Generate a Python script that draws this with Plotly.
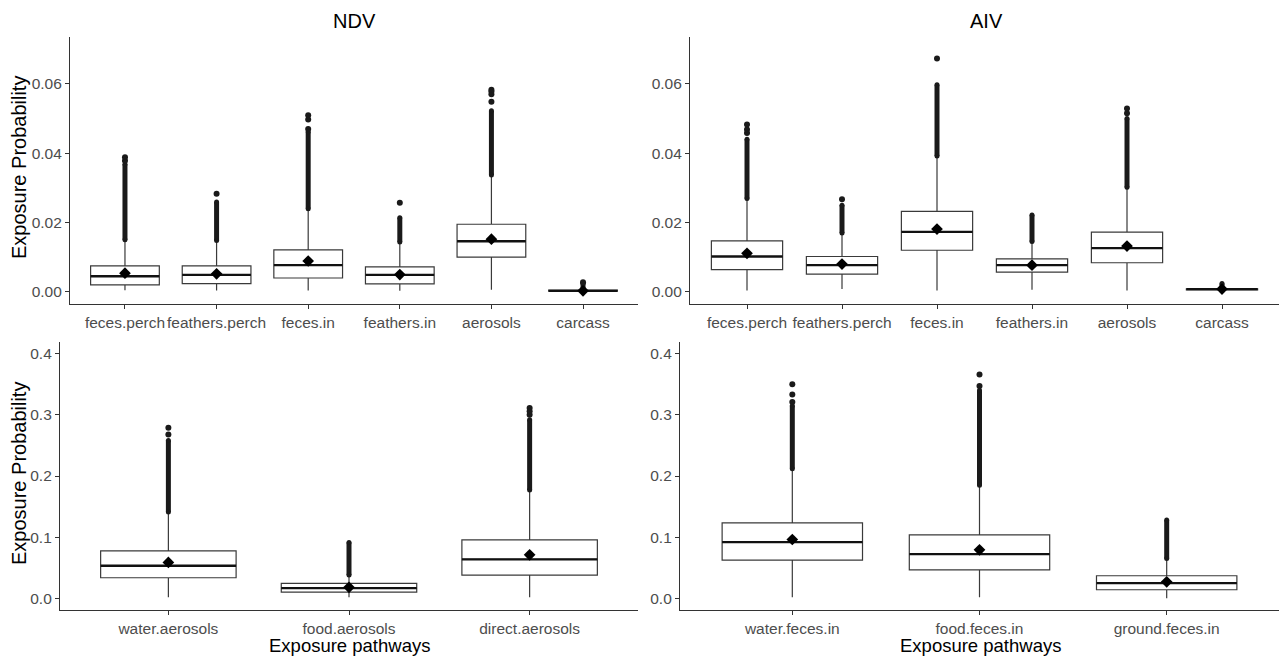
import plotly.graph_objects as go

# ---------------- DATA ----------------
top_cats = ["feces.perch", "feathers.perch", "feces.in", "feathers.in", "aerosols", "carcass"]

ndv_top_q1 = [0.0020, 0.0024, 0.0040, 0.0023, 0.0100, 0.0002]
ndv_top_med = [0.0045, 0.0049, 0.0077, 0.0049, 0.0146, 0.0003]
ndv_top_q3 = [0.0075, 0.0075, 0.0121, 0.0072, 0.0195, 0.0005]
ndv_top_low = [0.0005, 0.0004, 0.0004, 0.0003, 0.0006, 0.0000]
ndv_top_high = [0.0150, 0.0148, 0.0240, 0.0144, 0.0337, 0.0008]
ndv_top_mean = [0.0054, 0.0052, 0.0089, 0.0050, 0.0152, 0.0003]
ndv_top_dense_top = [0.0368, 0.0259, 0.0462, 0.0214, 0.0522, 0.0025]
ndv_top_isolated = [[0.0378, 0.0388], [0.0283], [0.0470, 0.0497, 0.0509], [0.0257],
                    [0.0548, 0.0570, 0.0578, 0.0583], [0.0028]]

aiv_top_q1 = [0.0064, 0.0051, 0.0120, 0.0057, 0.0084, 0.0006]
aiv_top_med = [0.0102, 0.0077, 0.0173, 0.0077, 0.0126, 0.0008]
aiv_top_q3 = [0.0147, 0.0102, 0.0232, 0.0095, 0.0172, 0.0009]
aiv_top_low = [0.0004, 0.0008, 0.0004, 0.0006, 0.0004, 0.0002]
aiv_top_high = [0.0269, 0.0170, 0.0392, 0.0145, 0.0302, 0.0012]
aiv_top_mean = [0.0111, 0.0080, 0.0181, 0.0077, 0.0132, 0.0008]
aiv_top_dense_top = [0.0440, 0.0250, 0.0597, 0.0222, 0.0500, 0.0024]
aiv_top_isolated = [[0.0458, 0.0468, 0.0483], [0.0267], [0.0673], [],
                    [0.0515, 0.0529], []]

ndv_bot_cats = ["water.aerosols", "food.aerosols", "direct.aerosols"]
ndv_bot_q1 = [0.0337, 0.0103, 0.0380]
ndv_bot_med = [0.0533, 0.0168, 0.0636]
ndv_bot_q3 = [0.0777, 0.0245, 0.0957]
ndv_bot_low = [0.002, 0.002, 0.002]
ndv_bot_high = [0.141, 0.038, 0.177]
ndv_bot_mean = [0.0587, 0.0180, 0.0712]
ndv_bot_dense_top = [0.258, 0.0915, 0.292]
ndv_bot_isolated = [[0.268, 0.279], [], [0.300, 0.306, 0.311]]

aiv_bot_cats = ["water.feces.in", "food.feces.in", "ground.feces.in"]
aiv_bot_q1 = [0.0625, 0.0467, 0.0141]
aiv_bot_med = [0.0918, 0.0723, 0.0250]
aiv_bot_q3 = [0.1234, 0.1038, 0.0370]
aiv_bot_low = [0.002, 0.002, 0.000]
aiv_bot_high = [0.212, 0.185, 0.065]
aiv_bot_mean = [0.0962, 0.0793, 0.0270]
aiv_bot_dense_top = [0.315, 0.340, 0.128]
aiv_bot_isolated = [[0.321, 0.333, 0.350], [0.347, 0.366], []]

top_yticks = [0.00, 0.02, 0.04, 0.06]
bot_yticks = [0.0, 0.1, 0.2, 0.3, 0.4]

# ---------------- LAYOUT HELPERS ----------------
W, H = 1280, 658
FONT = "Liberation Sans, Arial, sans-serif"
AXC = "#333333"
BOXW = 0.75
TICKSIZE = 15.5


def fx(px):
    return px / W


def fy(py):
    return 1 - py / H


panels = [
    (top_cats, ndv_top_q1, ndv_top_med, ndv_top_q3, ndv_top_low, ndv_top_high, ndv_top_mean,
     ndv_top_dense_top, ndv_top_isolated, (70, 638), (37, 304), [-0.0035, 0.0735], top_yticks, ".2f"),
    (top_cats, aiv_top_q1, aiv_top_med, aiv_top_q3, aiv_top_low, aiv_top_high, aiv_top_mean,
     aiv_top_dense_top, aiv_top_isolated, (690, 1279), (37, 304), [-0.0035, 0.0735], top_yticks, ".2f"),
    (ndv_bot_cats, ndv_bot_q1, ndv_bot_med, ndv_bot_q3, ndv_bot_low, ndv_bot_high, ndv_bot_mean,
     ndv_bot_dense_top, ndv_bot_isolated, (60, 638), (342, 610), [-0.019, 0.419], bot_yticks, ".1f"),
    (aiv_bot_cats, aiv_bot_q1, aiv_bot_med, aiv_bot_q3, aiv_bot_low, aiv_bot_high, aiv_bot_mean,
     aiv_bot_dense_top, aiv_bot_isolated, (680, 1279), (342, 610), [-0.019, 0.419], bot_yticks, ".1f"),
]

fig = go.Figure()
layout = dict(
    width=W, height=H,
    margin=dict(l=0, r=0, t=0, b=0),
    paper_bgcolor="white", plot_bgcolor="white",
    showlegend=False, boxmode="overlay",
    font=dict(family=FONT),
)

for i, (cats, q1, med, q3, low, high, mean, dtop, iso, xd, yd, yr, yt, fmt) in enumerate(panels):
    n = i + 1
    xa = "x" if n == 1 else f"x{n}"
    ya = "y" if n == 1 else f"y{n}"
    pos = list(range(1, len(cats) + 1))

    fig.add_trace(go.Box(
        x=pos, q1=q1, median=med, q3=q3, lowerfence=low, upperfence=high,
        width=BOXW, whiskerwidth=0, boxpoints=False,
        fillcolor="white", line=dict(color="#3a3a3a", width=1.2),
        xaxis=xa, yaxis=ya, hoverinfo="skip",
    ))

    # dense outlier runs (drawn as thick segments) and isolated outliers
    bx, by = [], []
    for p, h, t in zip(pos, high, dtop):
        bx += [p, p, None]
        by += [h, t, None]
    fig.add_trace(go.Scatter(x=bx, y=by, mode="lines+markers",
                             line=dict(color="#1a1a1a", width=5),
                             marker=dict(color="#1a1a1a", size=5),
                             xaxis=xa, yaxis=ya, hoverinfo="skip"))
    ix, iy = [], []
    for p, pts in zip(pos, iso):
        ix += [p] * len(pts)
        iy += pts
    fig.add_trace(go.Scatter(x=ix, y=iy, mode="markers",
                             marker=dict(color="#1a1a1a", size=6),
                             xaxis=xa, yaxis=ya, hoverinfo="skip"))

    # thick median line
    mx, my = [], []
    for p, m in zip(pos, med):
        mx += [p - BOXW / 2, p + BOXW / 2, None]
        my += [m, m, None]
    fig.add_trace(go.Scatter(x=mx, y=my, mode="lines",
                             line=dict(color="#111111", width=2.3),
                             xaxis=xa, yaxis=ya, hoverinfo="skip"))

    # mean diamonds
    fig.add_trace(go.Scatter(x=pos, y=mean, mode="markers",
                             marker=dict(symbol="diamond", color="black", size=9),
                             xaxis=xa, yaxis=ya, hoverinfo="skip"))

    xkey = "xaxis" if n == 1 else f"xaxis{n}"
    ykey = "yaxis" if n == 1 else f"yaxis{n}"
    layout[xkey] = dict(
        domain=[fx(xd[0]), fx(xd[1])], anchor=ya,
        range=[0.4, len(cats) + 0.6], tickvals=pos, ticktext=cats, tickangle=0,
        showline=True, linecolor=AXC, linewidth=1.2, showgrid=False, zeroline=False,
        ticks="outside", ticklen=4, tickcolor=AXC, tickwidth=1,
        tickfont=dict(family=FONT, size=TICKSIZE, color="#4d4d4d"),
        fixedrange=True,
    )
    layout[ykey] = dict(
        domain=[fy(yd[1]), fy(yd[0])], anchor=xa,
        range=yr, tickvals=yt, tickformat=fmt,
        showline=True, linecolor=AXC, linewidth=1.2, showgrid=False, zeroline=False,
        ticks="outside", ticklen=4, tickcolor=AXC, tickwidth=1,
        tickfont=dict(family=FONT, size=TICKSIZE, color="#4d4d4d"),
        fixedrange=True,
    )

annotations = [
    dict(text="NDV", x=fx(354), y=fy(21), xref="paper", yref="paper",
         showarrow=False, font=dict(family=FONT, size=20, color="black"),
         xanchor="center", yanchor="middle"),
    dict(text="AIV", x=fx(986), y=fy(21), xref="paper", yref="paper",
         showarrow=False, font=dict(family=FONT, size=20, color="black"),
         xanchor="center", yanchor="middle"),
    dict(text="Exposure Probability", x=fx(19), y=fy(168), xref="paper", yref="paper",
         showarrow=False, textangle=-90, font=dict(family=FONT, size=20, color="black"),
         xanchor="center", yanchor="middle"),
    dict(text="Exposure Probability", x=fx(19), y=fy(474), xref="paper", yref="paper",
         showarrow=False, textangle=-90, font=dict(family=FONT, size=20, color="black"),
         xanchor="center", yanchor="middle"),
    dict(text="Exposure pathways", x=fx(349), y=fy(645), xref="paper", yref="paper",
         showarrow=False, font=dict(family=FONT, size=18.5, color="black"),
         xanchor="center", yanchor="middle"),
    dict(text="Exposure pathways", x=fx(980), y=fy(645), xref="paper", yref="paper",
         showarrow=False, font=dict(family=FONT, size=18.5, color="black"),
         xanchor="center", yanchor="middle"),
]
layout["annotations"] = annotations

fig.update_layout(**layout)
fig.write_html("out.html", config={"displayModeBar": False},
               post_script="document.body.style.margin='0px';")
